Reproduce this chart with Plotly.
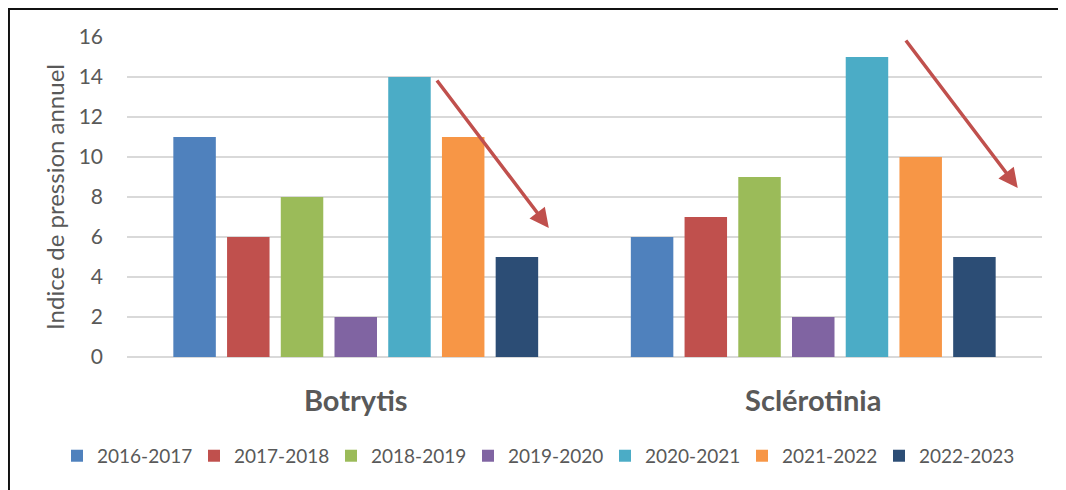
import plotly.graph_objects as go

categories = ["Botrytis", "Sclérotinia"]
seasons = ["2016-2017", "2017-2018", "2018-2019", "2019-2020", "2020-2021", "2021-2022", "2022-2023"]
values = {
    "2016-2017": [11, 6],
    "2017-2018": [6, 7],
    "2018-2019": [8, 9],
    "2019-2020": [2, 2],
    "2020-2021": [14, 15],
    "2021-2022": [11, 10],
    "2022-2023": [5, 5],
}
colors = ["#4F81BD", "#C0504D", "#9BBB59", "#8064A2", "#4BACC6", "#F79646", "#2C4D75"]
y_ticks = [0, 2, 4, 6, 8, 10, 12, 14, 16]

FONT = "Lato"
GREY = "#595959"

fig = go.Figure()
for s, c in zip(seasons, colors):
    fig.add_trace(go.Bar(x=categories, y=values[s], name=s, marker=dict(color=c, line=dict(width=0))))

arrow_color = "#C0504D"
# decreasing-trend arrows (tail -> head), in axis units
for (x0, y0, x1, y1) in [(0.175, 13.9, 0.422, 6.45), (1.200, 15.9, 1.447, 8.45)]:
    fig.add_annotation(x=x1, y=y1, ax=x0, ay=y0, xref="x", yref="y", axref="x", ayref="y",
                       showarrow=True, arrowhead=2, arrowsize=1.1, arrowwidth=3.5,
                       arrowcolor=arrow_color, text="")

fig.add_shape(type="rect", xref="paper", yref="paper", x0=-0.129, x1=1.1, y0=-0.5, y1=1.0875,
              line=dict(color="#111111", width=2), fillcolor="rgba(0,0,0,0)", layer="above")

fig.update_layout(
    width=1066, height=490,
    margin=dict(l=119, r=32, t=29, b=141, autoexpand=False),
    paper_bgcolor="white", plot_bgcolor="white",
    barmode="group", bargap=0.178, bargroupgap=0.209,
    font=dict(family=FONT, color=GREY, size=21),
    showlegend=True,
    legend=dict(orientation="h", x=-0.0765, xanchor="left", y=-0.309, yanchor="middle",
                font=dict(size=19, color=GREY), itemwidth=30, entrywidth=92,
                traceorder="normal"),
    xaxis=dict(range=[-0.5, 1.5], showgrid=False, showline=False, ticks="", automargin=False,
               tickfont=dict(family=FONT, size=29, color=GREY, weight="bold"),
               ticklabelstandoff=24),
    yaxis=dict(range=[0, 16], tickvals=y_ticks, showgrid=True, gridcolor="#D9D9D9", gridwidth=2,
               zeroline=True, zerolinecolor="#D9D9D9", zerolinewidth=2, showline=False,
               automargin=False,
               tickfont=dict(family=FONT, size=21, color=GREY), ticklabelstandoff=23,
               title=dict(text="Indice de pression annuel", font=dict(family=FONT, size=24, color=GREY),
                          standoff=7)),
)

fig.write_html("out.html")
